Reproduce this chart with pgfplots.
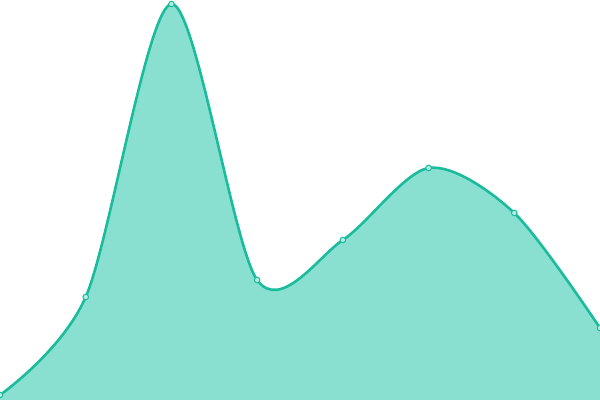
\documentclass[border=0pt]{standalone}
\usepackage{pgfplots}
\pgfplotsset{compat=1.18}
\definecolor{teal1}{HTML}{1ABC9C}
\definecolor{tealfill}{HTML}{89E0D0}
\begin{document}
\begin{tikzpicture}
\useasboundingbox (0,0) rectangle (600bp,400bp);
\begin{axis}[
  at={(0,0)}, anchor=south west,
  scale only axis, width=600bp, height=400bp,
  xmin=0, xmax=7, ymin=0, ymax=400,
  hide axis, clip=true,
]
\addplot[draw=none, fill=tealfill, smooth, tension=0.5] coordinates {
  (0,5) (1,103) (2,396) (3,120) (4,160) (5,232) (6,187) (7,72)
} \closedcycle;
\addplot[teal1, line width=2.6bp, smooth, tension=0.5,
  mark=*, mark size=2.8bp,
  mark options={draw=teal1, fill=tealfill!60!white, line width=1bp}] coordinates {
  (0,5) (1,103) (2,396) (3,120) (4,160) (5,232) (6,187) (7,72)
};
\end{axis}
\end{tikzpicture}
\end{document}
